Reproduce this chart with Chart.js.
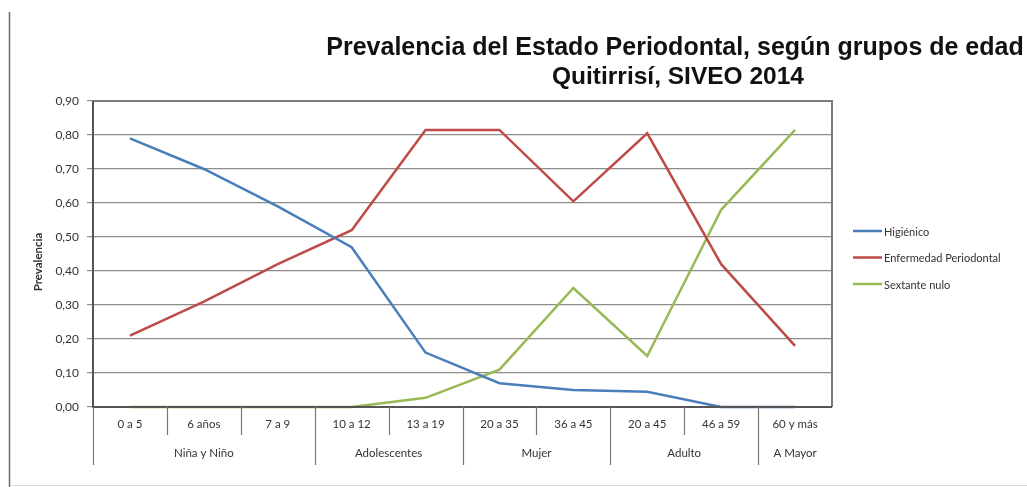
<!DOCTYPE html>
<html>
<head>
<meta charset="utf-8">
<script src="https://cdn.jsdelivr.net/npm/chart.js@4"></script>
<style>
  html, body { margin: 0; padding: 0; background: #fff; }
  #wrap { width: 1027px; height: 487px; position: relative; }
</style>
</head>
<body>
<div id="wrap"><canvas id="c" width="1027" height="487"></canvas></div>
<script>
// ---------- data ----------
const categories = ["0 a 5", "6 años", "7 a 9", "10 a 12", "13 a 19", "20 a 35", "36 a 45", "20 a 45", "46 a 59", "60 y más"];
const groups = [
  { label: "Niña y Niño", from: 0, to: 2 },
  { label: "Adolescentes", from: 3, to: 4 },
  { label: "Mujer", from: 5, to: 6 },
  { label: "Adulto", from: 7, to: 8 },
  { label: "A Mayor", from: 9, to: 9 },
];
const higienico = [0.79, 0.70, 0.59, 0.47, 0.16, 0.07, 0.05, 0.045, 0.0, 0.0];
const enfermedad = [0.21, 0.31, 0.42, 0.52, 0.815, 0.815, 0.605, 0.805, 0.42, 0.18];
const sextante = [0.0, 0.0, 0.0, 0.0, 0.027, 0.11, 0.35, 0.15, 0.58, 0.815];
const seriesNames = ["Higiénico", "Enfermedad Periodontal", "Sextante nulo"];
const seriesColors = ["#4a7ebb", "#be4b48", "#98b954"];
const titleLines = ["Prevalencia del Estado Periodontal, según grupos de edad", "Quitirrisí, SIVEO 2014"];
const labelFont = "Lato, 'Liberation Sans', sans-serif";

// ---------- plugin: frame, title, box, x labels, legend ----------
const decor = {
  id: "decor",
  beforeDraw(chart) {
    const ctx = chart.ctx;
    ctx.save();
    // outer frame
    ctx.strokeStyle = "#6b6b6b";
    ctx.lineWidth = 1.5;
    ctx.beginPath();
    ctx.moveTo(9.5, 12);
    ctx.lineTo(9.5, 487);
    ctx.stroke();
    ctx.strokeStyle = "#d8d8d8";
    ctx.lineWidth = 1;
    ctx.beginPath();
    ctx.moveTo(10, 485.5);
    ctx.lineTo(1027, 485.5);
    ctx.stroke();
    ctx.restore();
  },
  afterDraw(chart) {
    const ctx = chart.ctx;
    const a = chart.chartArea;
    const x = chart.scales.x;
    ctx.save();

    // title
    ctx.fillStyle = "#111";
    ctx.font = "bold 25px 'Liberation Sans', Arial, sans-serif";
    ctx.textAlign = "center";
    ctx.textBaseline = "alphabetic";
    ctx.fillText(titleLines[0], 675, 55);
    ctx.font = "bold 24.5px 'Liberation Sans', Arial, sans-serif";
    ctx.fillText(titleLines[1], 678, 84);

    // plot box
    ctx.strokeStyle = "#7a7a7a";
    ctx.lineWidth = 2;
    ctx.beginPath();
    ctx.moveTo(a.left, a.top);
    ctx.lineTo(a.right, a.top);
    ctx.lineTo(a.right, a.bottom);
    ctx.stroke();
    ctx.strokeStyle = "#555";
    ctx.beginPath();
    ctx.moveTo(a.left, a.top);
    ctx.lineTo(a.left, a.bottom);
    ctx.lineTo(a.right, a.bottom);
    ctx.stroke();

    // y axis title
    ctx.save();
    ctx.translate(38, 262);
    ctx.rotate(-Math.PI / 2);
    ctx.fillStyle = "#333";
    ctx.font = "bold 11.5px " + labelFont;
    ctx.textAlign = "center";
    ctx.textBaseline = "middle";
    ctx.fillText("Prevalencia", 0, 0);
    ctx.restore();

    // x category labels and separators
    const step = x.getPixelForValue(1) - x.getPixelForValue(0);
    ctx.strokeStyle = "#777";
    ctx.lineWidth = 1.2;
    ctx.fillStyle = "#333";
    ctx.font = "11.5px " + labelFont;
    ctx.textAlign = "center";
    ctx.textBaseline = "middle";
    categories.forEach((c, i) => {
      const cx = x.getPixelForValue(i);
      ctx.fillText(c, cx, a.bottom + 17);
      const left = cx - step / 2;
      const isGroupStart = groups.some((g) => g.from === i);
      ctx.beginPath();
      ctx.moveTo(Math.round(left) + 0.5, a.bottom);
      ctx.lineTo(Math.round(left) + 0.5, a.bottom + (isGroupStart ? 58 : 28));
      ctx.stroke();
    });
    groups.forEach((g) => {
      const cx = (x.getPixelForValue(g.from) + x.getPixelForValue(g.to)) / 2;
      ctx.fillText(g.label, cx, a.bottom + 46);
    });

    // legend
    ctx.font = "11px " + labelFont;
    ctx.textAlign = "left";
    ctx.lineWidth = 2.5;
    seriesNames.forEach((n, i) => {
      const ly = 231 + i * 26.5;
      ctx.strokeStyle = seriesColors[i];
      ctx.beginPath();
      ctx.moveTo(853, ly);
      ctx.lineTo(882, ly);
      ctx.stroke();
      ctx.fillStyle = "#333";
      ctx.fillText(n, 884, ly + 1);
    });
    ctx.restore();
  },
};

// ---------- chart ----------
new Chart(document.getElementById("c"), {
  type: "line",
  data: {
    labels: categories,
    datasets: [higienico, enfermedad, sextante].map((d, i) => ({
      label: seriesNames[i],
      data: d,
      borderColor: seriesColors[i],
      backgroundColor: seriesColors[i],
      borderWidth: 2.5,
      pointRadius: 0,
      tension: 0,
      clip: false,
    })),
  },
  options: {
    responsive: false,
    animation: false,
    devicePixelRatio: 1,
    layout: { padding: { left: 0, top: 101, right: 195, bottom: 80 } },
    plugins: { legend: { display: false }, title: { display: false }, tooltip: { enabled: false } },
    scales: {
      x: {
        type: "category",
        offset: true,
        grid: { display: false },
        border: { display: false },
        ticks: { display: false },
        afterFit: (s) => { s.height = 0; },
      },
      y: {
        min: 0,
        max: 0.9,
        ticks: {
          stepSize: 0.1,
          padding: 8,
          color: "#333",
          font: { family: labelFont, size: 12 },
          callback: (v) => v.toFixed(2).replace(".", ","),
        },
        grid: { color: "#8c8c8c", lineWidth: 1.2, tickLength: 6, tickColor: "#8c8c8c" },
        border: { display: false },
        afterFit: (s) => { s.width = 93; },
      },
    },
  },
  plugins: [decor],
});
</script>
</body>
</html>
